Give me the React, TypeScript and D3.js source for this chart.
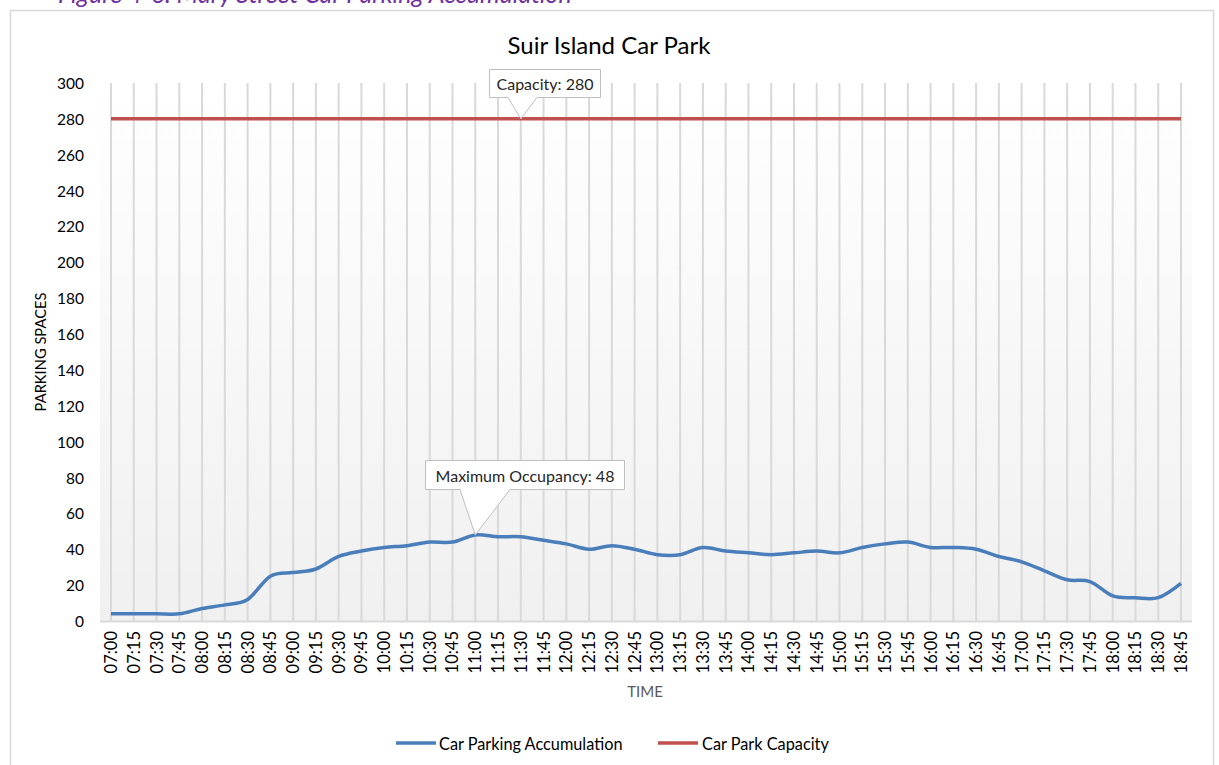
import React from "react";
import * as d3 from "d3";

const times = [
  "07:00","07:15","07:30","07:45","08:00","08:15","08:30","08:45",
  "09:00","09:15","09:30","09:45","10:00","10:15","10:30","10:45",
  "11:00","11:15","11:30","11:45","12:00","12:15","12:30","12:45",
  "13:00","13:15","13:30","13:45","14:00","14:15","14:30","14:45",
  "15:00","15:15","15:30","15:45","16:00","16:15","16:30","16:45",
  "17:00","17:15","17:30","17:45","18:00","18:15","18:30","18:45",
];
const accumulation = [
  4, 4, 4, 4, 7, 9, 12, 25,
  27, 29, 36, 39, 41, 42, 44, 44,
  48, 47, 47, 45, 43, 40, 42, 40,
  37, 37, 41, 39, 38, 37, 38, 39,
  38, 41, 43, 44, 41, 41, 40, 36,
  33, 28, 23, 22, 14, 13, 13, 21,
];
const capacityValue = 280;
const capacity = times.map(() => capacityValue);
const yTicks = [0, 20, 40, 60, 80, 100, 120, 140, 160, 180, 200, 220, 240, 260, 280, 300];
const chartTitle = "Suir Island Car Park";
const captionText = "Figure 4-6: Mary Street Car Parking Accumulation";
const seriesNames = ["Car Parking Accumulation", "Car Park Capacity"];
const capacityLabelTime = "11:30";

const FONT = "Lato, 'Open Sans', sans-serif";
const BLUE = "#4a7ebb";
const RED = "#c0504d";

function Callout({ x0, y0, x1, y1, px0, px1, ax, ay, text }) {
  const d = `M${x0},${y0} L${x1},${y0} L${x1},${y1} L${px1},${y1} L${ax},${ay} L${px0},${y1} L${x0},${y1} Z`;
  return (
    <g>
      <path d={d} fill="#ffffff" stroke="#bfbfbf" strokeWidth={1} />
      <text x={(x0 + x1) / 2} y={(y0 + y1) / 2} textAnchor="middle" dominantBaseline="central"
        fontFamily={FONT} fontSize={16} fill="#262626">{text}</text>
    </g>
  );
}

export default function App() {
  const W = 1219, H = 765;
  const plotL = 100, plotR = 1192, plotT = 83, plotB = 621;
  const x = d3.scalePoint().domain(times).range([111, 1181]);
  const y = d3.scaleLinear().domain([0, 300]).range([plotB, plotT]);

  const line = d3.line<number>()
    .x((_, i) => x(times[i]) as number)
    .y((d) => y(d))
    .curve(d3.curveCatmullRom.alpha(0));

  const maxIdx = d3.maxIndex(accumulation);
  const maxX = x(times[maxIdx]) as number;
  const maxY = y(accumulation[maxIdx]);
  const capX = x(capacityLabelTime) as number;
  const capY = y(capacityValue);

  return (
    <svg width={W} height={H} style={{ position: "absolute", left: 0, top: 0, background: "#fff" }}>
      <defs>
        <linearGradient id="plotbg" x1="0" y1="0" x2="0" y2="1">
          <stop offset="0" stopColor="#ffffff" />
          <stop offset="1" stopColor="#f0f0f0" />
        </linearGradient>
      </defs>
      <text x={58} y={3} fontFamily={FONT} fontStyle="italic" fontSize={25} fill="#7030a0">{captionText}</text>
      <rect x={10.5} y={10.5} width={1203} height={780} fill="#ffffff" stroke="#d9d9d9" strokeWidth={1.5} />
      <text x={609} y={44} textAnchor="middle" dominantBaseline="central" fontFamily={FONT} fontSize={24} fill="#000">{chartTitle}</text>

      <rect x={plotL} y={plotT} width={plotR - plotL} height={plotB - plotT} fill="url(#plotbg)" />
      {times.map((t) => (
        <line key={t} x1={x(t)} x2={x(t)} y1={plotT} y2={plotB} stroke="#d9d9d9" strokeWidth={2} />
      ))}
      <line x1={plotL} x2={plotR} y1={plotB + 0.5} y2={plotB + 0.5} stroke="#d9d9d9" strokeWidth={2} />

      {yTicks.map((v) => (
        <text key={v} x={84} y={y(v)} textAnchor="end" dominantBaseline="central" fontFamily={FONT} fontSize={15.5} fill="#000">{v}</text>
      ))}
      {times.map((t) => (
        <text key={t} transform={`translate(${x(t)},631) rotate(-90)`} textAnchor="end" dominantBaseline="central"
          fontFamily={FONT} fontSize={16.5} fill="#000">{t}</text>
      ))}
      <text x={645} y={691} textAnchor="middle" dominantBaseline="central" fontFamily={FONT} fontSize={15} fill="#595959">TIME</text>
      <text transform="translate(40,352) rotate(-90)" textAnchor="middle" dominantBaseline="central" fontFamily={FONT} fontSize={14.7} fill="#000">PARKING SPACES</text>

      <path d={line(capacity) || ""} fill="none" stroke={RED} strokeWidth={3.5} />
      <path d={line(accumulation) || ""} fill="none" stroke={BLUE} strokeWidth={3.5} strokeLinejoin="round" />

      <Callout x0={489.5} y0={69.5} x1={600.5} y1={97.5} px0={508} px1={537} ax={capX} ay={capY} text={`Capacity: ${capacityValue}`} />
      <Callout x0={425.5} y0={460.5} x1={624.5} y1={489.5} px0={460} px1={510} ax={maxX} ay={maxY} text={`Maximum Occupancy: ${accumulation[maxIdx]}`} />

      <line x1={396} x2={436} y1={743} y2={743} stroke={BLUE} strokeWidth={3.5} />
      <text x={439} y={743} dominantBaseline="central" fontFamily={FONT} fontSize={16.3} fill="#000">{seriesNames[0]}</text>
      <line x1={658} x2={698} y1={743} y2={743} stroke={RED} strokeWidth={3.5} />
      <text x={702} y={743} dominantBaseline="central" fontFamily={FONT} fontSize={16.3} fill="#000">{seriesNames[1]}</text>
    </svg>
  );
}
